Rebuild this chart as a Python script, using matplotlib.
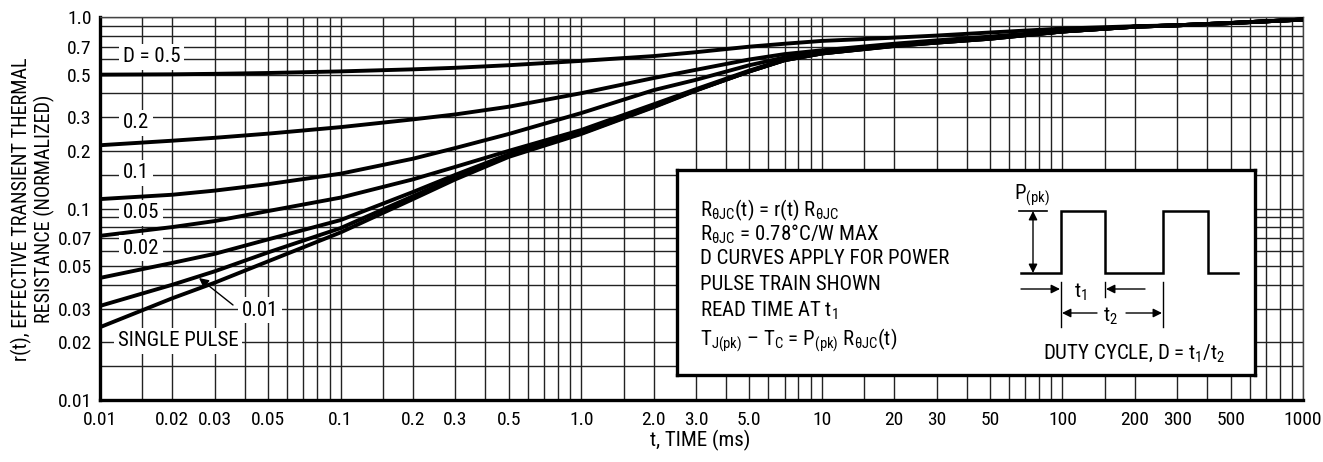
import matplotlib
matplotlib.use('Agg')

import numpy as np
import matplotlib.pyplot as plt
import matplotlib.font_manager as fm
from matplotlib.ticker import FixedLocator, FixedFormatter, NullLocator

#========================================================
# curve data
t_ms = [0.01, 0.02, 0.03, 0.05, 0.1, 0.2, 0.3, 0.5, 1.0, 2.0, 3.0, 5.0, 7.0,
        10, 20, 30, 50, 100, 200, 300, 500, 1000]

r_d05 = [0.500, 0.502, 0.505, 0.510, 0.520, 0.533, 0.543, 0.560, 0.590, 0.625, 0.655,
         0.700, 0.725, 0.750, 0.780, 0.800, 0.830, 0.870, 0.895, 0.905, 0.930, 0.970]
r_d02 = [0.214, 0.226, 0.234, 0.246, 0.266, 0.292, 0.310, 0.340, 0.400, 0.480, 0.530,
         0.600, 0.640, 0.670, 0.725, 0.755, 0.790, 0.845, 0.890, 0.905, 0.930, 0.970]
r_d01 = [0.112, 0.118, 0.124, 0.134, 0.152, 0.182, 0.207, 0.245, 0.315, 0.415, 0.470,
         0.560, 0.615, 0.660, 0.715, 0.745, 0.780, 0.840, 0.890, 0.905, 0.930, 0.970]
r_d005 = [0.072, 0.080, 0.086, 0.097, 0.114, 0.142, 0.165, 0.200, 0.257, 0.350, 0.420,
          0.525, 0.600, 0.650, 0.712, 0.740, 0.775, 0.840, 0.890, 0.905, 0.930, 0.970]
r_d002 = [0.0434, 0.052, 0.058, 0.069, 0.087, 0.122, 0.150, 0.192, 0.250, 0.342, 0.415,
          0.520, 0.595, 0.645, 0.708, 0.735, 0.770, 0.840, 0.890, 0.905, 0.930, 0.970]
r_d001 = [0.031, 0.040, 0.047, 0.059, 0.079, 0.116, 0.145, 0.189, 0.247, 0.340, 0.415,
          0.520, 0.595, 0.645, 0.706, 0.735, 0.770, 0.840, 0.890, 0.905, 0.930, 0.970]
r_single = [0.024, 0.034, 0.041, 0.053, 0.075, 0.112, 0.142, 0.186, 0.245, 0.338, 0.413,
            0.520, 0.595, 0.645, 0.705, 0.735, 0.770, 0.840, 0.890, 0.905, 0.930, 0.970]

curves = [r_d05, r_d02, r_d01, r_d005, r_d002, r_d001, r_single]

x_ticks = [0.01, 0.02, 0.03, 0.05, 0.1, 0.2, 0.3, 0.5, 1.0, 2.0, 3.0, 5.0,
           10, 20, 30, 50, 100, 200, 300, 500, 1000]
x_labels = ['0.01', '0.02', '0.03', '0.05', '0.1', '0.2', '0.3', '0.5', '1.0', '2.0', '3.0', '5.0',
            '10', '20', '30', '50', '100', '200', '300', '500', '1000']
y_ticks = [0.01, 0.02, 0.03, 0.05, 0.07, 0.1, 0.2, 0.3, 0.5, 0.7, 1.0]
y_labels = ['0.01', '0.02', '0.03', '0.05', '0.07', '0.1', '0.2', '0.3', '0.5', '0.7', '1.0']
grid_steps = [1, 1.5, 2, 3, 4, 5, 6, 7, 8, 9]
#========================================================

# look for a condensed sans face, the datasheet uses a narrow helvetica
fam, stretch = None, 'normal'
names = {f.name for f in fm.fontManager.ttflist}
for cand in ['Liberation Sans Narrow', 'Roboto Condensed', 'Open Sans Condensed',
             'Noto Sans Condensed', 'DejaVu Sans Condensed']:
    if cand in names:
        fam = cand
        break
if fam is None:
    for f in fm.fontManager.ttflist:
        if f.stretch in ('condensed', 'semi-condensed') and f.style == 'normal' \
                and f.weight in (400, 'normal', 'regular'):
            fam, stretch = f.name, f.stretch
            break
if fam is None:
    fam = 'Liberation Sans'
    FS, FT = 12.5, 13.5
else:
    FS, FT = 14, 15

plt.rcParams['font.family'] = [fam, 'Liberation Sans', 'DejaVu Sans']
plt.rcParams['font.stretch'] = stretch
plt.rcParams['mathtext.fontset'] = 'custom'
pat = fam if stretch == 'normal' else '%s:stretch=%s' % (fam, stretch)
plt.rcParams['mathtext.rm'] = pat
plt.rcParams['mathtext.it'] = pat
plt.rcParams['font.size'] = FS

W, H = 1323, 462
fig = plt.figure(figsize=(W / 100, H / 100), dpi=100)

L, R, T, B = 100, 1303, 17, 400
ax = fig.add_axes([L / W, 1 - B / H, (R - L) / W, (B - T) / H])


def ax_frac(px, py):
    return (px - L) / (R - L), (B - py) / (B - T)


ax.set_xscale('log')
ax.set_yscale('log')
ax.set_xlim(0.01, 1000)
ax.set_ylim(0.01, 1.0)

xg = [s * 10.0 ** e for e in range(-2, 3) for s in grid_steps] + [1000]
yg = [s * 10.0 ** e for e in range(-2, 0) for s in grid_steps] + [1.0]
for v in xg:
    ax.axvline(v, color='#222222', lw=1.0, zorder=1)
for v in yg:
    ax.axhline(v, color='#222222', lw=1.0, zorder=1)

for r in curves:
    ax.plot(t_ms, r, color='black', lw=2.8, solid_capstyle='butt',
            solid_joinstyle='round', zorder=3)

ax.xaxis.set_major_locator(FixedLocator(x_ticks))
ax.xaxis.set_major_formatter(FixedFormatter(x_labels))
ax.yaxis.set_major_locator(FixedLocator(y_ticks))
ax.yaxis.set_major_formatter(FixedFormatter(y_labels))
ax.xaxis.set_minor_locator(NullLocator())
ax.yaxis.set_minor_locator(NullLocator())
ax.tick_params(axis='both', length=0, labelsize=FS)
ax.tick_params(axis='x', pad=8)
ax.tick_params(axis='y', pad=6)

for s in ['left', 'bottom']:
    ax.spines[s].set_linewidth(2.4)
for s in ['top', 'right']:
    ax.spines[s].set_linewidth(1.0)
    ax.spines[s].set_color('#444444')

# curve labels
box = dict(facecolor='white', edgecolor='none', pad=2.5)
labels = [('D = 0.5', 123, 57), ('0.2', 123, 123), ('0.1', 123, 173),
          ('0.05', 123, 213), ('0.02', 123, 248), ('0.01', 242, 310),
          ('SINGLE PULSE', 118, 341)]
for txt, px, py in labels:
    fx, fy = ax_frac(px, py)
    ax.text(fx, fy, txt, transform=ax.transAxes, ha='left', va='center',
            fontsize=FT, bbox=box, zorder=4)

ax.annotate('', xy=ax_frac(199, 278), xytext=ax_frac(233, 305),
            xycoords='axes fraction', textcoords='axes fraction',
            arrowprops=dict(arrowstyle='-|>', color='black', lw=1.0,
                            mutation_scale=14, shrinkA=0, shrinkB=0), zorder=4)

fig.text(700 / W, 1 - 440 / H, 't, TIME (ms)', ha='center', va='center', fontsize=FT)
fig.text(33 / W, 1 - 209 / H, 'r(t), EFFECTIVE TRANSIENT THERMAL\nRESISTANCE (NORMALIZED)',
         ha='center', va='center', rotation=90, fontsize=FS + 0.5, linespacing=1.15,
         multialignment='center')

# info box with the pulse train sketch
bx0, bx1, by0, by1 = 677, 1255, 170, 375
ib = fig.add_axes([bx0 / W, 1 - by1 / H, (bx1 - bx0) / W, (by1 - by0) / H])
ib.set_xlim(bx0, bx1)
ib.set_ylim(by1, by0)
ib.set_xticks([])
ib.set_yticks([])
ib.set_facecolor('white')
for s in ib.spines.values():
    s.set_linewidth(2.4)

info_lines = [
    r'R$_{\mathrm{θJC}}$(t) = r(t) R$_{\mathrm{θJC}}$',
    r'R$_{\mathrm{θJC}}$ = 0.78°C/W MAX',
    'D CURVES APPLY FOR POWER',
    'PULSE TRAIN SHOWN',
    r'READ TIME AT t$_{\mathrm{1}}$',
    r'T$_{\mathrm{J(pk)}}$ – T$_{\mathrm{C}}$ = P$_{\mathrm{(pk)}}$ R$_{\mathrm{θJC}}$(t)',
]
info_y = [210, 234, 259, 285, 311, 340]
for s, yv in zip(info_lines, info_y):
    ib.text(700, yv, s, ha='left', va='center', fontsize=FT)

lw = 1.8
px = [1021, 1061, 1061, 1105, 1105, 1163, 1163, 1208, 1208, 1238]
py = [273, 273, 211, 211, 273, 273, 211, 211, 273, 273]
ib.plot(px, py, color='black', lw=lw, solid_joinstyle='miter')
ib.plot([1019, 1047], [211, 211], color='black', lw=1.2)
for xv, ya, yb in [(1061, 282, 327), (1105, 282, 297), (1163, 282, 327)]:
    ib.plot([xv, xv], [ya, yb], color='black', lw=1.0)

arr = dict(arrowstyle='-|>', color='black', lw=1.0, mutation_scale=13, shrinkA=0, shrinkB=0)
darr = dict(arrowstyle='<|-|>', color='black', lw=1.0, mutation_scale=13, shrinkA=0, shrinkB=0)
ib.annotate('', xy=(1033, 211), xytext=(1033, 273), arrowprops=darr)
ib.annotate('', xy=(1060, 289), xytext=(1021, 289), arrowprops=arr)
ib.annotate('', xy=(1106, 289), xytext=(1145, 289), arrowprops=arr)
ib.annotate('', xy=(1062, 313), xytext=(1097, 313), arrowprops=arr)
ib.annotate('', xy=(1162, 313), xytext=(1126, 313), arrowprops=arr)

ib.text(1032, 195, r'P$_{\mathrm{(pk)}}$', ha='center', va='center', fontsize=FT)
ib.text(1081, 292, r't$_{\mathrm{1}}$', ha='center', va='center', fontsize=FT)
ib.text(1110, 316, r't$_{\mathrm{2}}$', ha='center', va='center', fontsize=FT)
ib.text(1134, 353, r'DUTY CYCLE, D = t$_{\mathrm{1}}$/t$_{\mathrm{2}}$', ha='center', va='center',
        fontsize=FT)

fig.savefig('out.png', dpi=100)
